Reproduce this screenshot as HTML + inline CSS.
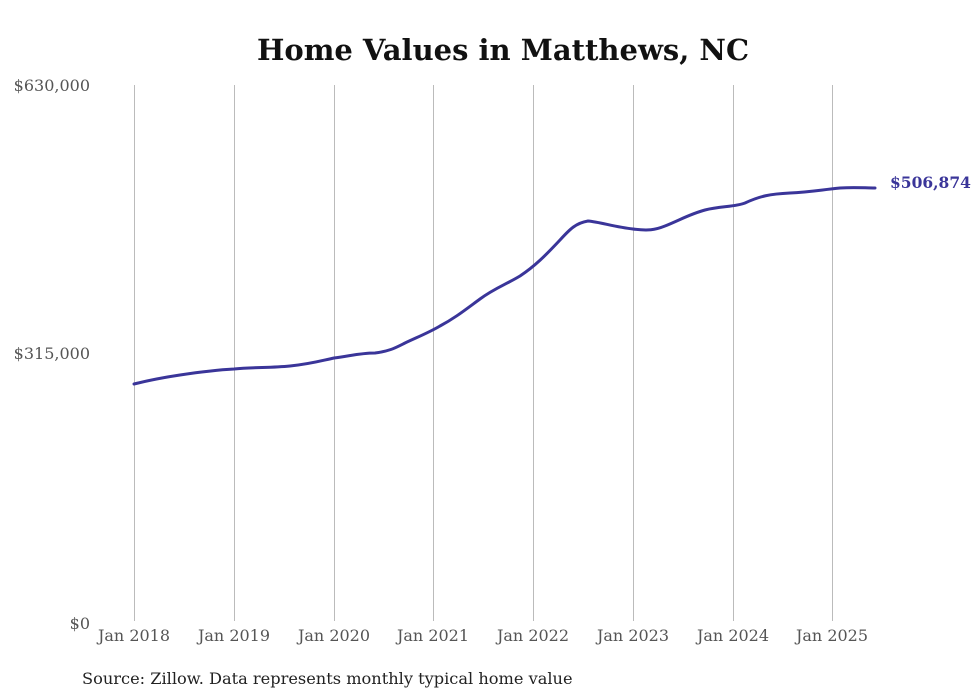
<!DOCTYPE html>
<html><head><meta charset="utf-8"><style>
body{margin:0;background:#fff;}
svg{display:block;font-family:"DejaVu Serif","Liberation Serif",serif;}
</style></head><body>
<svg width="980" height="699" viewBox="0 0 980 699">
<rect width="980" height="699" fill="#fff"/>
<text x="503" y="60" text-anchor="middle" font-size="29" font-weight="bold" fill="#111">Home Values in Matthews, NC</text>
<g stroke="#bbb" stroke-width="1">
<line x1="134.5" y1="85" x2="134.5" y2="621"/>
<line x1="234.5" y1="85" x2="234.5" y2="621"/>
<line x1="334.5" y1="85" x2="334.5" y2="621"/>
<line x1="433.5" y1="85" x2="433.5" y2="621"/>
<line x1="533.5" y1="85" x2="533.5" y2="621"/>
<line x1="633.5" y1="85" x2="633.5" y2="621"/>
<line x1="733.5" y1="85" x2="733.5" y2="621"/>
<line x1="832.5" y1="85" x2="832.5" y2="621"/>
</g>
<g font-size="16" fill="#555">
<text x="90" y="91" text-anchor="end">$630,000</text>
<text x="90" y="359" text-anchor="end">$315,000</text>
<text x="90" y="629" text-anchor="end">$0</text>
</g>
<g font-size="16" fill="#555" text-anchor="middle">
<text x="134" y="641">Jan 2018</text>
<text x="234" y="641">Jan 2019</text>
<text x="334" y="641">Jan 2020</text>
<text x="433" y="641">Jan 2021</text>
<text x="533" y="641">Jan 2022</text>
<text x="633" y="641">Jan 2023</text>
<text x="733" y="641">Jan 2024</text>
<text x="832" y="641">Jan 2025</text>
</g>
<path d="M134,384 C150,380 160,378 180,375 C200,372 215,370 234,369 C255,367 270,368 290,366 C310,364 320,361 334,358 C350,356 360,353 375,353 C390,351 395,348 405,343 C420,336 430,332 440,326 C455,318 465,310 480,299 C495,288 505,285 520,276 C535,266 545,256 560,240 C570,229 576,223 588,221 C600,222 615,227 633,229 C648,231 655,230 665,226 C680,220 690,214 705,210 C720,206 735,207 745,203 C760,196 770,194 790,193 C810,192 820,190 840,188 C855,187 865,188 875,188" fill="none" stroke="#3a3599" stroke-width="3" stroke-linecap="round"/>
<text x="890" y="188" font-size="15.5" font-weight="bold" fill="#3a3599">$506,874</text>
<text x="82" y="684" font-size="16.2" fill="#222">Source: Zillow. Data represents monthly typical home value</text>
</svg>
</body></html>
